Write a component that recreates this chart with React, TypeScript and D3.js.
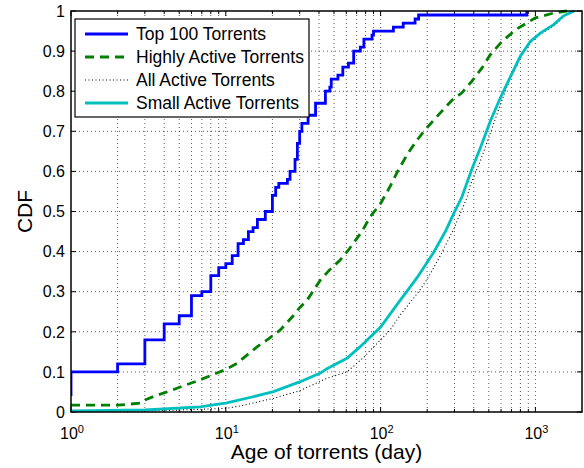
import React from "react";
import * as d3 from "d3";

type P = [number, number];

const top100: P[] = [
  [1, 0.04], [1, 0.10], [2, 0.12], [3, 0.18], [4, 0.22], [5, 0.24], [6, 0.29], [7, 0.30],
  [8, 0.34], [9, 0.36], [10, 0.37], [11, 0.39], [12, 0.42], [13, 0.43], [14, 0.45],
  [15, 0.46], [16, 0.48], [18, 0.50], [20, 0.54], [21, 0.56], [22, 0.57], [25, 0.58],
  [26, 0.60], [28, 0.63], [29, 0.67], [30, 0.70], [31, 0.72], [34, 0.74], [38, 0.77],
  [44, 0.80], [47, 0.81], [48, 0.83], [53, 0.84], [57, 0.86], [62, 0.87], [67, 0.90],
  [74, 0.91], [78, 0.93], [88, 0.94], [90, 0.95], [121, 0.96], [140, 0.97], [167, 0.98],
  [176, 0.99], [880, 1.0],
];

const highlyActive: P[] = [
  [1, 0.017], [2, 0.017], [2.8, 0.022], [3, 0.03], [3.6, 0.042], [4.4, 0.053], [5.3, 0.065],
  [6.5, 0.077], [8.1, 0.092], [10, 0.106], [11.8, 0.121], [13.7, 0.142], [16, 0.163],
  [18.5, 0.18], [22.4, 0.204], [27, 0.238], [30, 0.26], [33.4, 0.278], [40.8, 0.329],
  [47, 0.355], [54.8, 0.379], [62, 0.404], [75.7, 0.45], [85.7, 0.487], [100, 0.52],
  [115, 0.562], [130, 0.603], [150, 0.645], [172, 0.678], [195, 0.705], [243, 0.746],
  [290, 0.778], [335, 0.796], [389, 0.825], [452, 0.858], [511, 0.891], [609, 0.924],
  [742, 0.953], [1000, 0.983], [1312, 0.995], [1600, 1.0],
];

const allActive: P[] = [
  [1, 0.0], [3, 0.002], [10, 0.009], [12.4, 0.015], [20.3, 0.034], [30, 0.053], [45, 0.084],
  [60.6, 0.10], [77.6, 0.136], [100, 0.18], [115, 0.204], [134, 0.242], [168, 0.29],
  [180, 0.305], [199, 0.33], [220, 0.359], [243, 0.39], [296, 0.455], [361, 0.534],
  [379, 0.565], [440, 0.625], [487, 0.672], [511, 0.695], [593, 0.766], [688, 0.833],
  [760, 0.864], [800, 0.885], [927, 0.92], [1076, 0.943], [1312, 0.962], [1540, 0.988],
  [1800, 1.0],
];

const smallActive: P[] = [
  [1, 0.003], [3, 0.005], [6.8, 0.013], [9.2, 0.02], [10, 0.022], [15, 0.038], [20.3, 0.051],
  [30, 0.075], [40.8, 0.097], [45, 0.108], [60.6, 0.134], [73.8, 0.163], [100, 0.212],
  [134, 0.279], [172, 0.335], [220, 0.398], [262, 0.45], [296, 0.494],
  [335, 0.536], [389, 0.606], [440, 0.658], [511, 0.725], [593, 0.783], [688, 0.835],
  [799, 0.887], [927, 0.924], [1076, 0.945], [1312, 0.966], [1520, 0.988], [1780, 1.0],
];

const yTicks = [0, 0.1, 0.2, 0.3, 0.4, 0.5, 0.6, 0.7, 0.8, 0.9, 1];
const yTickLabels = ["0", "0.1", "0.2", "0.3", "0.4", "0.5", "0.6", "0.7", "0.8", "0.9", "1"];
const xMajor = [1, 10, 100, 1000];
const xExponents = ["0", "1", "2", "3"];
const legendLabels = ["Top 100 Torrents", "Highly Active Torrents", "All Active Torrents", "Small Active Torrents"];

const W = 584, H = 468;
const L = 71, R = 582, T = 11, B = 412;
const FONT = "'Liberation Sans', Arial, Helvetica, sans-serif";

export default function App() {
  const x = d3.scaleLog().domain([1, 2000]).range([L, R]);
  const y = d3.scaleLinear().domain([0, 1]).range([B, T]);

  const minor: number[] = [];
  for (let k = 0; k < 4; k++) {
    for (let m = 2; m <= 9; m++) {
      const v = m * Math.pow(10, k);
      if (v < 2000) minor.push(v);
    }
  }

  const stepLine = d3.line<P>().x((d) => x(d[0])).y((d) => y(d[1])).curve(d3.curveStepAfter);
  const line = d3.line<P>().x((d) => x(d[0])).y((d) => y(d[1]));

  const series = [
    { d: stepLine(top100), stroke: "#0000ff", width: 2.8, dash: undefined as string | undefined },
    { d: line(highlyActive), stroke: "#007f00", width: 2.8, dash: "9,6" },
    { d: line(allActive), stroke: "#000000", width: 1.1, dash: "1,2.5" },
    { d: line(smallActive), stroke: "#00bfbf", width: 2.8, dash: undefined },
  ];

  const legendStyles = [
    { stroke: "#0000ff", width: 2.8, dash: undefined as string | undefined },
    { stroke: "#007f00", width: 2.8, dash: "9,6" },
    { stroke: "#000000", width: 1.1, dash: "1,2.5" },
    { stroke: "#00bfbf", width: 2.8, dash: undefined },
  ];

  const gridStyle = { stroke: "#333", strokeWidth: 0.8, strokeDasharray: "1,3" };

  return (
    <svg width={W} height={H} style={{ position: "absolute", left: 0, top: 0, background: "#fff" }} fontFamily={FONT}>
      <rect x={0} y={0} width={W} height={H} fill="#fff" />
      <clipPath id="plotclip">
        <rect x={L} y={T - 2} width={R - L} height={B - T + 2} />
      </clipPath>
      {/* grid */}
      <g>
        {yTicks.slice(1, -1).map((t) => (
          <line key={"gy" + t} x1={L} x2={R} y1={y(t)} y2={y(t)} {...gridStyle} />
        ))}
        {[...xMajor.slice(1), ...minor].map((t) => (
          <line key={"gx" + t} x1={x(t)} x2={x(t)} y1={T} y2={B} {...gridStyle} />
        ))}
      </g>
      {/* ticks */}
      <g stroke="#000" strokeWidth={1}>
        {yTicks.map((t) => (
          <g key={"yt" + t}>
            <line x1={L} x2={L + 5} y1={y(t)} y2={y(t)} />
            <line x1={R - 5} x2={R} y1={y(t)} y2={y(t)} />
          </g>
        ))}
        {xMajor.map((t) => (
          <g key={"xt" + t}>
            <line x1={x(t)} x2={x(t)} y1={B} y2={B - 5} />
            <line x1={x(t)} x2={x(t)} y1={T} y2={T + 5} />
          </g>
        ))}
        {minor.map((t) => (
          <g key={"xm" + t}>
            <line x1={x(t)} x2={x(t)} y1={B} y2={B - 3} />
            <line x1={x(t)} x2={x(t)} y1={T} y2={T + 3} />
          </g>
        ))}
      </g>
      {/* series */}
      <g clipPath="url(#plotclip)" fill="none">
        {[series[2], series[3], series[1], series[0]].map((s, i) => (
          <path key={i} d={s.d || ""} stroke={s.stroke} strokeWidth={s.width} strokeDasharray={s.dash} strokeLinejoin="miter" />
        ))}
      </g>
      {/* axes box */}
      <rect x={L} y={T} width={R - L} height={B - T} fill="none" stroke="#000" strokeWidth={1.5} />
      {/* y tick labels */}
      {yTicks.map((t, i) => (
        <text key={"yl" + t} x={65} y={y(t)} dy="0.36em" textAnchor="end" fontSize={16} fill="#000">
          {yTickLabels[i]}
        </text>
      ))}
      {/* x tick labels */}
      {xMajor.map((t, i) => (
        <text key={"xl" + t} x={x(t) + 1} y={438.5} textAnchor="middle" fontSize={16} fill="#000">
          10
          <tspan fontSize={11} dy={-5.5}>{xExponents[i]}</tspan>
        </text>
      ))}
      {/* axis labels */}
      <text x={(L + R) / 2} y={459} textAnchor="middle" fontSize={21} fill="#000">
        Age of torrents (day)
      </text>
      <text transform={`translate(32,${(T + B) / 2}) rotate(-90)`} textAnchor="middle" fontSize={21} fill="#000">
        CDF
      </text>
      {/* legend */}
      <g>
        <rect x={75} y={19} width={234} height={98} fill="#fff" stroke="#000" strokeWidth={1.2} />
        {legendLabels.map((lab, i) => {
          const ly = 34 + i * 23;
          const st = legendStyles[i];
          return (
            <g key={lab}>
              <line x1={85} x2={128} y1={ly} y2={ly} stroke={st.stroke} strokeWidth={st.width} strokeDasharray={st.dash} />
              <text x={136} y={ly} dy="0.36em" fontSize={17.5} fill="#000">
                {lab}
              </text>
            </g>
          );
        })}
      </g>
    </svg>
  );
}
